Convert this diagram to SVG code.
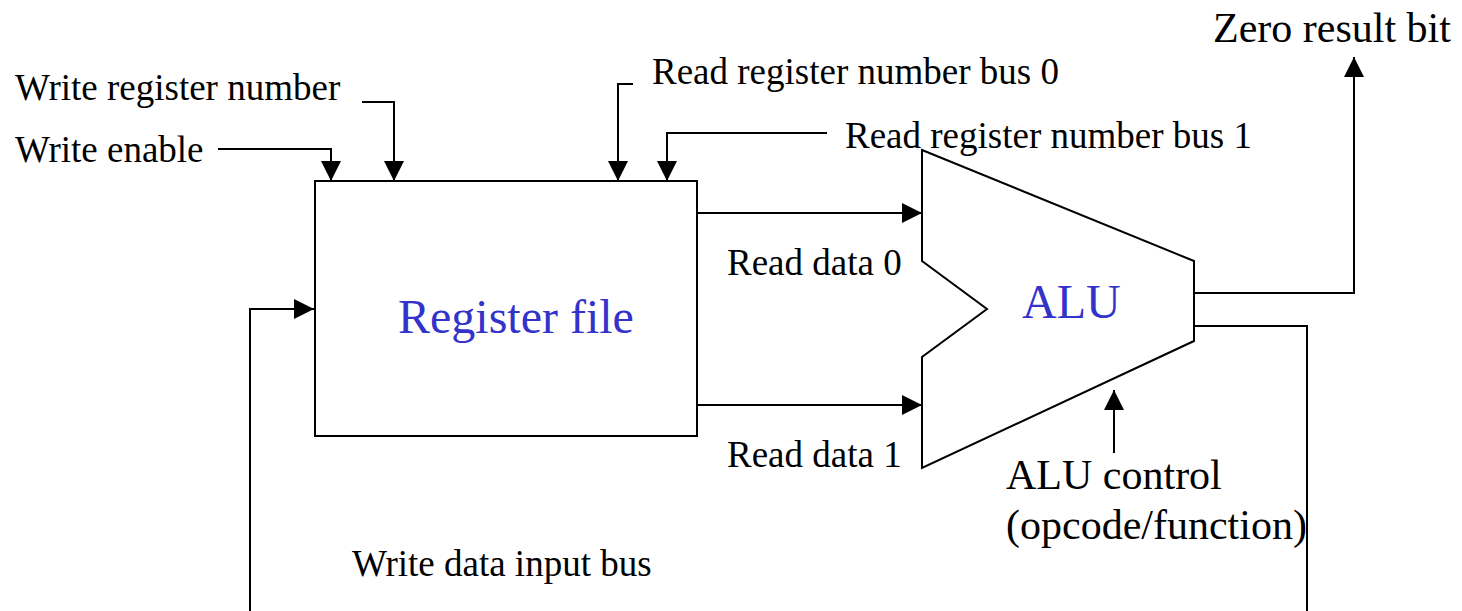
<svg xmlns="http://www.w3.org/2000/svg" width="1462" height="611" viewBox="0 0 1462 611">
<style>
.ln{fill:none;stroke:#000;stroke-width:2}
.t{font-family:"Liberation Serif","Times New Roman",serif;font-size:37px;fill:#000}
.tl{font-family:"Liberation Serif","Times New Roman",serif;font-size:42px;fill:#000}
.tb{font-family:"Liberation Serif","Times New Roman",serif;font-size:48px;fill:#3333cc}
</style>
<defs>
<marker id="arr" viewBox="0 0 20 20" refX="20" refY="10" markerWidth="20" markerHeight="20" markerUnits="userSpaceOnUse" orient="auto">
<path d="M0,0 L20,10 L0,20 Z" fill="#000"/>
</marker>
</defs>
<rect width="1462" height="611" fill="#fff"/>
<g id="regfile">
<rect class="ln" x="315" y="181" width="382" height="255"/>
<text class="tb" x="398" y="333">Register file</text>
</g>
<g id="alu">
<path class="ln" d="M922,150 L1194,261 L1194,341 L922,468 L922,357 L987,309 L922,261 Z"/>
<text class="tb" x="1022" y="318" font-size="47">ALU</text>
</g>
<g id="labels">
<text class="t" x="15" y="100">Write register number</text>
<text class="t" x="15" y="162">Write enable</text>
<text class="t" x="652" y="84">Read register number bus 0</text>
<text class="t" x="845" y="148">Read register number bus 1</text>
<text class="t" x="727" y="275">Read data 0</text>
<text class="t" x="727" y="467">Read data 1</text>
<text class="tl" x="1213" y="42">Zero result bit</text>
<text class="tl" x="1006" y="489">ALU control</text>
<text class="tl" x="1006" y="539">(opcode/function)</text>
<text class="t" x="352" y="576">Write data input bus</text>
</g>
<g id="connectors">
<polyline class="ln" points="218,149 331,149 331,181" marker-end="url(#arr)"/>
<polyline class="ln" points="362,102 394,102 394,181" marker-end="url(#arr)"/>
<polyline class="ln" points="633,84 618,84 618,181" marker-end="url(#arr)"/>
<polyline class="ln" points="827,133 667,133 667,181" marker-end="url(#arr)"/>
<line class="ln" x1="697" y1="213" x2="922" y2="213" marker-end="url(#arr)"/>
<line class="ln" x1="697" y1="405" x2="922" y2="405" marker-end="url(#arr)"/>
<polyline class="ln" points="1194,293 1354,293 1354,57" marker-end="url(#arr)"/>
<polyline class="ln" points="1194,326 1307,326 1307,611"/>
<line class="ln" x1="1114" y1="453" x2="1114" y2="390" marker-end="url(#arr)"/>
<polyline class="ln" points="250,611 250,309 314,309" marker-end="url(#arr)"/>
</g>
</svg>
